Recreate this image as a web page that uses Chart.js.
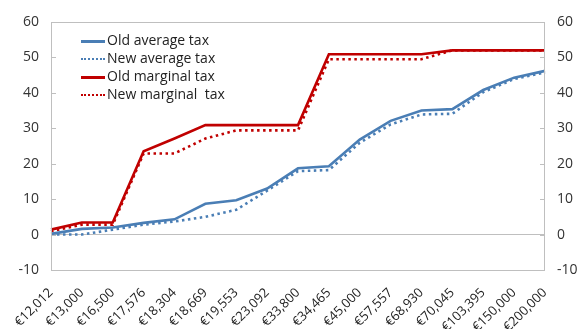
<!DOCTYPE html>
<html>
<head>
<meta charset="utf-8">
<script src="https://cdn.jsdelivr.net/npm/chart.js@4.4.0/dist/chart.umd.min.js"></script>
<style>
  body { margin: 0; background: #fff; }
  #wrap { position: relative; width: 583px; height: 329px; }
  #legend { position: absolute; left: 81px; top: 31px; font-family: "Open Sans", sans-serif; font-size: 14px; color: #222; }
  .item { height: 17.9px; line-height: 17.9px; white-space: pre; }
  .swatch { display: inline-block; width: 24px; vertical-align: middle; margin-right: 2px; }
</style>
</head>
<body>
<div id="wrap">
  <canvas id="grafico" width="583" height="329"></canvas>
  <div id="legend"></div>
</div>
<script>
// Ingresos (categorías del eje x)
const ingresos = ['€12,012', '€13,000', '€16,500', '€17,576', '€18,304', '€18,669', '€19,553', '€23,092',
    '€33,800', '€34,465', '€45,000', '€57,557', '€68,930', '€70,045', '€103,395', '€150,000', '€200,000'];

// Tipos en %
const mediaAntigua = [0.2, 1.6, 2.0, 3.3, 4.3, 8.7, 9.7, 13.0, 18.7, 19.3, 26.8, 32.1, 35.0, 35.4, 40.8, 44.3, 46.2];
const mediaNueva = [0.0, 0.0, 1.4, 2.8, 3.7, 5.0, 7.0, 12.4, 17.9, 18.2, 25.9, 31.1, 33.9, 34.1, 40.2, 43.9, 45.8];
const marginalAntiguo = [1.4, 3.4, 3.4, 23.5, 27.1, 30.9, 30.9, 30.9, 30.9, 50.9, 50.9, 50.9, 50.9, 52, 52, 52, 52];
const marginalNuevo = [0.9, 2.8, 2.8, 22.9, 22.9, 27.1, 29.4, 29.4, 29.4, 49.5, 49.5, 49.5, 49.5, 52, 52, 52, 52];

const AZUL = '#4a7eb5';
const ROJO = '#c00000';
const GRIS = '#bfbfbf';

const series = [
    { label: 'Old average tax', data: mediaAntigua, color: AZUL, dotted: false },
    { label: 'New average tax', data: mediaNueva, color: AZUL, dotted: true },
    { label: 'Old marginal tax', data: marginalAntiguo, color: ROJO, dotted: false },
    { label: 'New marginal  tax', data: marginalNuevo, color: ROJO, dotted: true }
];

// Leyenda en HTML
const legend = document.getElementById('legend');
series.forEach(s => {
    const div = document.createElement('div');
    div.className = 'item';
    const sw = document.createElement('span');
    sw.className = 'swatch';
    sw.style.borderTop = s.dotted ? '2.5px dotted ' + s.color : '3px solid ' + s.color;
    div.appendChild(sw);
    div.appendChild(document.createTextNode(s.label));
    legend.appendChild(div);
});

// Marco del área de trazado y marcas de los ejes hacia dentro
const marco = {
    id: 'marco',
    afterDraw(chart) {
        const { ctx, chartArea: a, scales } = chart;
        ctx.save();
        ctx.strokeStyle = GRIS;
        ctx.lineWidth = 1;
        ctx.strokeRect(a.left + 0.5, a.top + 0.5, a.right - a.left - 1, a.bottom - a.top);
        ctx.beginPath();
        scales.y.ticks.forEach(t => {
            const y = Math.round(scales.y.getPixelForValue(t.value)) + 0.5;
            ctx.moveTo(a.left, y); ctx.lineTo(a.left + 5, y);
            ctx.moveTo(a.right - 5, y); ctx.lineTo(a.right, y);
        });
        ctx.stroke();
        ctx.restore();
    }
};

const fuenteEje = { family: '"Open Sans", sans-serif', size: 14 };

new Chart(document.getElementById('grafico'), {
    type: 'line',
    data: {
        labels: ingresos,
        datasets: series.map(s => ({
            label: s.label,
            data: s.data,
            borderColor: s.color,
            backgroundColor: s.color,
            borderWidth: 2.6,
            borderDash: s.dotted ? [2.5, 3.5] : [],
            pointRadius: 0,
            tension: 0,
            yAxisID: 'y'
        }))
    },
    options: {
        responsive: false,
        animation: false,
        layout: { padding: { top: 22, left: 0, right: 0, bottom: 0 } },
        plugins: { legend: { display: false }, tooltip: { enabled: false } },
        scales: {
            x: {
                offset: false,
                grid: { display: false },
                border: { display: false },
                ticks: {
                    minRotation: 45, maxRotation: 45, autoSkip: false, padding: 7,
                    color: '#222', font: { family: '"Open Sans", sans-serif', size: 13 }
                },
                afterFit: s => { s.height = 59; }
            },
            y: {
                position: 'left',
                min: -10, max: 60,
                ticks: { stepSize: 10, padding: 12, color: '#333', font: fuenteEje },
                grid: {
                    drawTicks: false,
                    color: c => (c.tick && c.tick.value === 0 ? GRIS : 'rgba(0,0,0,0)')
                },
                border: { display: false },
                afterFit: s => { s.width = 51; }
            },
            y2: {
                position: 'right',
                min: -10, max: 60,
                ticks: { stepSize: 10, padding: 12, color: '#333', font: fuenteEje },
                grid: { drawOnChartArea: false, drawTicks: false },
                border: { display: false },
                afterFit: s => { s.width = 38; }
            }
        }
    },
    plugins: [marco]
});
</script>
</body>
</html>
